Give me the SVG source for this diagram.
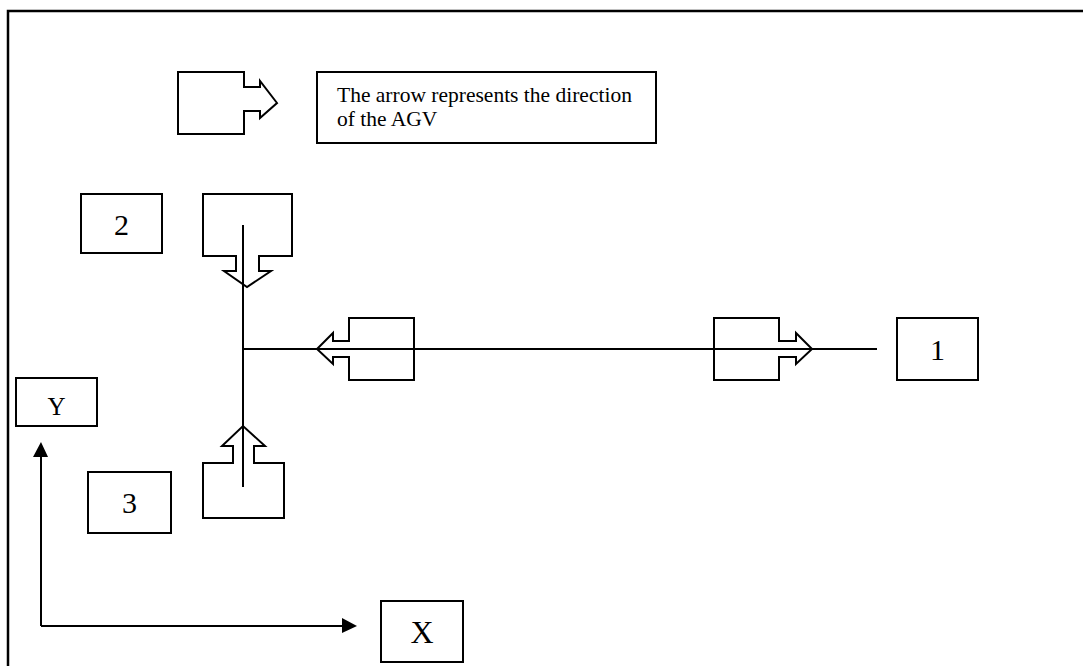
<svg xmlns="http://www.w3.org/2000/svg" width="1083" height="666" viewBox="0 0 1083 666">
<style>
.s{fill:none;stroke:#000;stroke-width:2}
.b{fill:#fff;stroke:#000;stroke-width:2}
.t{font-family:"Liberation Serif","Times New Roman",serif;fill:#000}
</style>
<rect width="1083" height="666" fill="#fff"/>
<path d="M8,666 V11 H1083" fill="none" stroke="#000" stroke-width="2.5"/>
<g id="connectors">
<line class="s" x1="243" y1="225" x2="243" y2="487"/>
<line class="s" x1="243" y1="349" x2="877" y2="349"/>
<path class="s" d="M41,626 V457"/>
<path d="M33,457 L41,442 L48,457 Z" fill="#000"/>
<path class="s" d="M41,626 H342"/>
<path d="M342,618 L357,626 L342,633 Z" fill="#000"/>
</g>
<g id="legend-arrow">
<path class="b" d="M178,72 H244 V87 H260 V81 L277,103 L260,118 V111 H244 V134 H178 Z"/>
</g>
<g id="legend-text">
<rect class="b" x="317" y="72" width="339" height="71"/>
<text class="t" x="337" y="102" font-size="21.5">The arrow represents the direction</text>
<text class="t" x="337" y="126" font-size="21.5">of the AGV</text>
</g>
<g id="node-2">
<rect class="b" x="81" y="194" width="81" height="59"/>
<text class="t" x="121.5" y="235" font-size="30" text-anchor="middle">2</text>
</g>
<g id="agv-down">
<path class="s" d="M203,194 H292 V256 H259 V271 H271 L247,287 L224,271 H236 V256 H203 Z"/>
</g>
<g id="agv-left">
<path class="s" d="M414,318 V380 H349 V357 H333 V364 L317,349 L333,333 V341 H349 V318 Z"/>
</g>
<g id="agv-right">
<path class="s" d="M714,318 H779 V341 H796 V333 L812,349 L796,364 V357 H779 V380 H714 Z"/>
</g>
<g id="node-1">
<rect class="b" x="897" y="318" width="81" height="62"/>
<text class="t" x="937.5" y="360" font-size="30" text-anchor="middle">1</text>
</g>
<g id="node-y">
<rect class="b" x="16" y="378" width="81" height="48"/>
<text class="t" x="56.5" y="415" font-size="25" text-anchor="middle">Y</text>
</g>
<g id="agv-up">
<path class="s" d="M203,463 H233 V446 H222 L243,426 L265,446 H254 V463 H284 V518 H203 Z"/>
</g>
<g id="node-3">
<rect class="b" x="88" y="472" width="83" height="61"/>
<text class="t" x="129.5" y="513" font-size="30" text-anchor="middle">3</text>
</g>
<g id="node-x">
<rect class="b" x="381" y="601" width="82" height="61"/>
<text class="t" x="422" y="643" font-size="32" text-anchor="middle">X</text>
</g>
</svg>
